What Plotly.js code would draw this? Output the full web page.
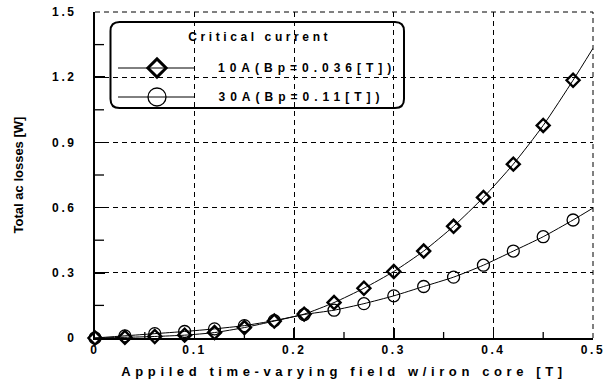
<!DOCTYPE html>
<html>
<head>
<meta charset="utf-8">
<script src="https://cdn.plot.ly/plotly-3.0.1.min.js"></script>
<style>
  html, body { margin: 0; padding: 0; background: #fff; }
  #chart { width: 606px; height: 387px; }
  .xtick text, .ytick text { letter-spacing: 2.6px; }
  .g-xtitle text { letter-spacing: 4.6px; }
  g.annotation[data-index="0"] .annotation-text { letter-spacing: 3.6px; }
  g.annotation[data-index="1"] .annotation-text,
  g.annotation[data-index="2"] .annotation-text { letter-spacing: 5px; }
</style>
</head>
<body>
<div id="chart"></div>
<script>
// ---- data ----
const fieldT   = [0, 0.03, 0.06, 0.09, 0.12, 0.15, 0.18, 0.21, 0.24, 0.27, 0.30, 0.33, 0.36, 0.39, 0.42, 0.45, 0.48];
const loss10A  = [0, 0.003, 0.007, 0.013, 0.025, 0.048, 0.078, 0.11, 0.163, 0.229, 0.306, 0.40, 0.514, 0.647, 0.80, 0.978, 1.186];
const loss30A  = [0, 0.010, 0.020, 0.030, 0.042, 0.057, 0.080, 0.108, 0.128, 0.158, 0.194, 0.237, 0.28, 0.335, 0.40, 0.466, 0.543];
// fitted curves continue to the right edge of the plot
const fitEndField = 0.5;
const fitEnd10A   = 1.333;
const fitEnd30A   = 0.598;

const legendTitle = 'Critical current';
const seriesNames = ['10A(Bp=0.036[T])', '30A(Bp=0.11[T])'];
const xTitle = 'Appiled time-varying field w/iron core [T]';
const yTitle = 'Total ac losses [W]';
const xTickVals = [0, 0.1, 0.2, 0.3, 0.4, 0.5];
const xTickText = ['0', '0.1', '0.2', '0.3', '0.4', '0.5'];
const yTickVals = [0, 0.3, 0.6, 0.9, 1.2, 1.5];
const yTickText = ['0', '0.3', '0.6', '0.9', '1.2', '1.5'];
const xMinorTicks = [0.05, 0.15, 0.25, 0.35, 0.45];
const yMinorTicks = [0.15, 0.45, 0.75, 1.05, 1.35];

// ---- layout geometry (pixels) ----
const W = 606, H = 387;
const M = { l: 95, r: 13, t: 12, b: 49 };
const PW = W - M.l - M.r, PH = H - M.t - M.b;
const px = X => (X - M.l) / PW;
const py = Y => (H - M.b - Y) / PH;

const font = 'Liberation Sans, Arial, sans-serif';
const GRID_DASH = '5px,4px';

function roundRect(x0, y0, x1, y1, r) {
  const p = (X, Y) => px(X).toFixed(5) + ',' + py(Y).toFixed(5);
  return 'M' + p(x0 + r, y0) + ' L' + p(x1 - r, y0) +
    ' Q' + p(x1, y0) + ' ' + p(x1, y0 + r) +
    ' L' + p(x1, y1 - r) + ' Q' + p(x1, y1) + ' ' + p(x1 - r, y1) +
    ' L' + p(x0 + r, y1) + ' Q' + p(x0, y1) + ' ' + p(x0, y1 - r) +
    ' L' + p(x0, y0 + r) + ' Q' + p(x0, y0) + ' ' + p(x0 + r, y0) + ' Z';
}

const traces = [
  { x: fieldT.concat([fitEndField]), y: loss10A.concat([fitEnd10A]), mode: 'lines',
    line: { color: '#000', width: 1, shape: 'spline', smoothing: 0.6 }, showlegend: false, hoverinfo: 'skip' },
  { x: fieldT.concat([fitEndField]), y: loss30A.concat([fitEnd30A]), mode: 'lines',
    line: { color: '#000', width: 1, shape: 'spline', smoothing: 0.6 }, showlegend: false, hoverinfo: 'skip' },
  { x: fieldT, y: loss30A, mode: 'markers', name: seriesNames[1], cliponaxis: false,
    marker: { symbol: 'circle-open', size: 12, color: '#000', line: { color: '#000', width: 1.3 } }, showlegend: false },
  { x: fieldT, y: loss10A, mode: 'markers', name: seriesNames[0], cliponaxis: false,
    marker: { symbol: 'diamond-open', size: 10, color: '#000', line: { color: '#000', width: 2.4 } }, showlegend: false },
  // legend symbols on an overlay axis spanning the plot area
  { x: [px(157)], y: [py(68)], xaxis: 'x2', yaxis: 'y2', mode: 'markers', showlegend: false, hoverinfo: 'skip', cliponaxis: false,
    marker: { symbol: 'diamond-open', size: 14, color: '#000', line: { color: '#000', width: 3 } } },
  { x: [px(157)], y: [py(97)], xaxis: 'x2', yaxis: 'y2', mode: 'markers', showlegend: false, hoverinfo: 'skip', cliponaxis: false,
    marker: { symbol: 'circle-open', size: 18, color: '#000', line: { color: '#000', width: 1.3 } } }
];

const shapes = [
  { type: 'path', xref: 'paper', yref: 'paper', path: roundRect(110.5, 22, 404, 108, 9),
    line: { color: '#000', width: 2 }, fillcolor: 'rgba(0,0,0,0)' },
  { type: 'line', xref: 'paper', yref: 'paper', x0: px(118), x1: px(195), y0: py(68), y1: py(68), line: { color: '#000', width: 1 } },
  { type: 'line', xref: 'paper', yref: 'paper', x0: px(118), x1: px(195), y0: py(97), y1: py(97), line: { color: '#000', width: 1 } },
  // dashed frame on top and right
  { type: 'line', xref: 'paper', yref: 'paper', x0: 0, x1: 1, y0: 1, y1: 1, line: { color: '#000', width: 1, dash: GRID_DASH } },
  { type: 'line', xref: 'paper', yref: 'paper', x0: 1, x1: 1, y0: 0, y1: 1, line: { color: '#000', width: 1, dash: GRID_DASH } }
];
// minor ticks (inside) on bottom and left axes
xMinorTicks.forEach(v => shapes.push({ type: 'line', xref: 'x', yref: 'paper', x0: v, x1: v, y0: 0, y1: 6 / PH,
  line: { color: '#000', width: 1.3 } }));
yMinorTicks.forEach(v => shapes.push({ type: 'line', xref: 'paper', yref: 'y', x0: 0, x1: 9 / PW, y0: v, y1: v,
  line: { color: '#000', width: 1.3 } }));

const annFont = { family: font, size: 12, color: '#000', weight: 'bold' };
const annotations = [
  { xref: 'paper', yref: 'paper', x: px(259), y: py(37), text: legendTitle, showarrow: false, xanchor: 'center', yanchor: 'middle', font: annFont },
  { xref: 'paper', yref: 'paper', x: px(307), y: py(68), text: seriesNames[0], showarrow: false, xanchor: 'center', yanchor: 'middle', font: annFont },
  { xref: 'paper', yref: 'paper', x: px(301), y: py(97), text: seriesNames[1], showarrow: false, xanchor: 'center', yanchor: 'middle', font: annFont }
];

const tickFont = { family: font, size: 12, color: '#000', weight: 'bold' };

const layout = {
  width: W, height: H,
  margin: M,
  paper_bgcolor: '#fff', plot_bgcolor: '#fff',
  font: { family: font, size: 12, color: '#000' },
  showlegend: false,
  xaxis: {
    range: [0, 0.5], tickmode: 'array', tickvals: xTickVals, ticktext: xTickText,
    ticks: 'inside', ticklen: 10, tickwidth: 1.6, tickcolor: '#000',
    showline: true, linecolor: '#000', linewidth: 2,
    showgrid: true, gridcolor: '#000', gridwidth: 1, griddash: GRID_DASH,
    zeroline: false, fixedrange: true,
    tickfont: tickFont,
    title: { text: xTitle, font: { family: font, size: 13, color: '#000', weight: 'bold' }, standoff: 10 }
  },
  yaxis: {
    range: [0, 1.5], tickmode: 'array', tickvals: yTickVals, ticktext: yTickText,
    ticks: 'inside', ticklen: 10, tickwidth: 1.6, tickcolor: '#000',
    showline: true, linecolor: '#000', linewidth: 2,
    showgrid: true, gridcolor: '#000', gridwidth: 1, griddash: GRID_DASH,
    zeroline: false, fixedrange: true,
    ticklabelstandoff: 14,
    tickfont: tickFont,
    title: { text: yTitle, font: { family: font, size: 13, color: '#000', weight: 'bold' }, standoff: 26 }
  },
  xaxis2: { overlaying: 'x', range: [0, 1], visible: false, fixedrange: true, anchor: 'y2' },
  yaxis2: { overlaying: 'y', range: [0, 1], visible: false, fixedrange: true, anchor: 'x2' },
  shapes: shapes,
  annotations: annotations
};

Plotly.newPlot('chart', traces, layout, { staticPlot: true, displayModeBar: false });
</script>
</body>
</html>
